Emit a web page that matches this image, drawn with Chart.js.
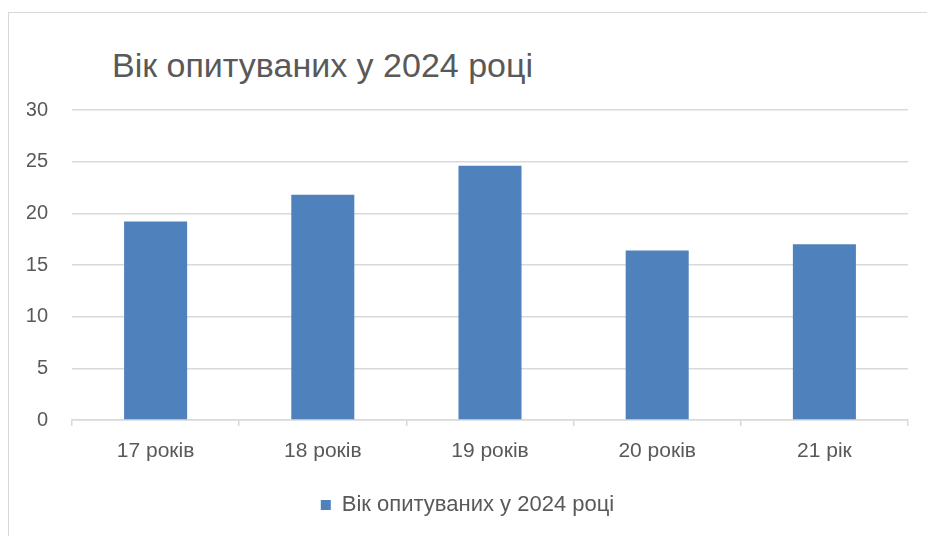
<!DOCTYPE html>
<html lang="uk">
<head>
  <meta charset="UTF-8">
  <title>Вік опитуваних у 2024 році</title>
  <style>
    html, body { margin: 0; padding: 0; background: #fff; overflow: hidden; }
    #wrap { position: relative; width: 927px; height: 536px; }
    #frame { position: absolute; left: 8px; top: 12px; width: 1000px; height: 600px; border: 1px solid #d9d9d9; }
    #title { position: absolute; left: 112px; top: 46px; font-family: "Liberation Sans", Arial, sans-serif; font-size: 34px; color: #595959; white-space: nowrap; }
    canvas { position: absolute; left: 0; top: 0; }
  </style>
</head>
<body>
<div id="wrap">
  <div id="frame"></div>
  <div id="title">Вік опитуваних у 2024 році</div>
  <canvas id="chart" width="927" height="536"></canvas>
</div>

<script src="https://cdn.jsdelivr.net/npm/chart.js"></script>
<script>
  // data
  const categories = ['17 років', '18 років', '19 років', '20 років', '21 рік'];
  const seriesName = 'Вік опитуваних у 2024 році';
  const values = [19.2, 21.8, 24.6, 16.4, 17.0];
  const yTicks = [0, 5, 10, 15, 20, 25, 30];

  const textColor = '#595959';
  const gridColor = '#d9d9d9';
  const family = '"Liberation Sans", Arial, sans-serif';
  const font = { family: family, size: 21 };

  const ctx = document.getElementById('chart').getContext('2d');
  new Chart(ctx, {
    type: 'bar',
    data: {
      labels: categories,
      datasets: [{
        label: seriesName,
        data: values,
        backgroundColor: '#4f81bd',
        barPercentage: 0.377,
        categoryPercentage: 1
      }]
    },
    options: {
      responsive: false,
      animation: false,
      layout: { padding: { top: 110, left: 27, right: 19, bottom: 10 } },
      plugins: {
        title: { display: false },
        tooltip: { enabled: false },
        legend: {
          position: 'bottom',
          labels: {
            boxWidth: 10,
            boxHeight: 10,
            padding: 20,
            color: textColor,
            font: { family: family, size: 22 }
          }
        }
      },
      scales: {
        x: {
          grid: { drawOnChartArea: false, drawTicks: true, tickLength: 6, color: gridColor, lineWidth: 1.5 },
          border: { color: gridColor, width: 1.5 },
          ticks: { color: textColor, font: font, padding: 13, maxRotation: 0 },
          afterFit: s => { s.height = 54; }
        },
        y: {
          min: yTicks[0],
          max: yTicks[yTicks.length - 1],
          grid: { color: gridColor, lineWidth: 1.5, drawTicks: false },
          border: { display: false },
          ticks: { stepSize: 5, color: textColor, font: { family: family, size: 20 }, padding: 24 },
          afterFit: s => { s.width = 45; }
        }
      }
    }
  });
</script>
</body>
</html>
